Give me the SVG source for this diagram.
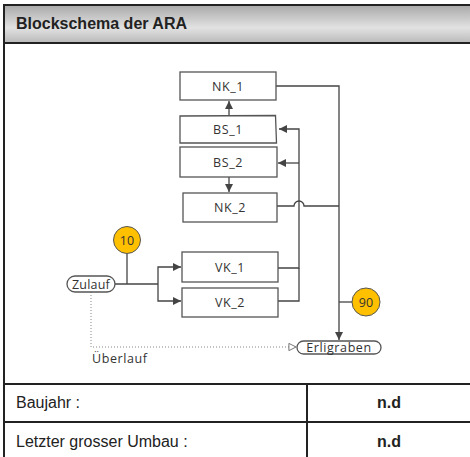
<svg xmlns="http://www.w3.org/2000/svg" width="470" height="457" viewBox="0 0 470 457">
<style>
.box{fill:#fff;stroke:#555;stroke-width:1.3}
.lbl{font-family:"Open Sans","DejaVu Sans",sans-serif;font-size:12.5px;fill:#333;text-anchor:middle;letter-spacing:0.6px}
.st{text-anchor:start}
.ln{fill:none;stroke:#444;stroke-width:1.3}
.dot{fill:none;stroke:#888;stroke-width:1;stroke-dasharray:1,2}
.circ{fill:#FFC000;stroke:#555;stroke-width:1}
.tx{font-family:"Liberation Sans",Arial,sans-serif;font-size:16px;fill:#222}
.b{font-weight:bold}
.mid{text-anchor:middle}
.frame{stroke:#222;stroke-width:2;fill:none}
</style>
<defs>
<linearGradient id="hg" x1="0" y1="0" x2="0" y2="1">
<stop offset="0" stop-color="#a9a9a9"/>
<stop offset="0.6" stop-color="#e2e2e2"/>
<stop offset="1" stop-color="#b9b9b9"/>
</linearGradient>
<marker id="ah" viewBox="0 0 10 10" refX="10" refY="5" markerWidth="8" markerHeight="8" markerUnits="userSpaceOnUse" orient="auto">
<path d="M0,0 L10,5 L0,10 Z" fill="#444"/>
</marker>
<marker id="oh" viewBox="0 0 10 10" refX="10" refY="5" markerWidth="9" markerHeight="9" markerUnits="userSpaceOnUse" orient="auto">
<path d="M1,1 L9,5 L1,9 Z" fill="#fff" stroke="#666" stroke-width="1"/>
</marker>
</defs>
<rect width="470" height="457" fill="#fff"/>
<g id="header">
<rect x="4" y="5" width="470" height="38" fill="url(#hg)" stroke="#222" stroke-width="2"/>
<text class="tx b" x="16" y="29">Blockschema der ARA</text>
</g>
<g id="frame">
<line class="frame" x1="4" y1="43" x2="4" y2="457"/>
<line class="frame" x1="4" y1="384" x2="470" y2="384"/>
<line class="frame" x1="4" y1="422" x2="470" y2="422" stroke-width="1.5"/>
<line class="frame" x1="307" y1="384" x2="307" y2="457" stroke="#333" stroke-width="2.5"/>
<text class="tx" x="16" y="408">Baujahr :</text>
<text class="tx b mid" x="389" y="408">n.d</text>
<text class="tx" x="16" y="447">Letzter grosser Umbau :</text>
<text class="tx b mid" x="389" y="447">n.d</text>
</g>
<g id="connectors">
<line class="ln" x1="229" y1="116" x2="229" y2="101" marker-end="url(#ah)"/>
<line class="ln" x1="229" y1="177" x2="229" y2="192" marker-end="url(#ah)"/>
<polyline class="ln" points="276,86 339,86 339,340" marker-end="url(#ah)"/>
<path class="ln" d="M277,206 H294 A5,5 0 0 1 304,206 H339"/>
<polyline class="ln" points="278,268 299,268 299,129 279,129" marker-end="url(#ah)"/>
<polyline class="ln" points="299,163 278,163" marker-end="url(#ah)"/>
<polyline class="ln" points="278,301 299,301 299,268"/>
<polyline class="ln" points="115,284 158,284"/>
<polyline class="ln" points="158,284 158,267 181,267" marker-end="url(#ah)"/>
<polyline class="ln" points="158,284 158,301 181,301" marker-end="url(#ah)"/>
<line class="ln" x1="127" y1="254" x2="127" y2="284"/>
<line class="ln" x1="352" y1="302" x2="339" y2="302"/>
<polyline class="dot" points="91,292 91,347 297,347" marker-end="url(#oh)"/>
</g>
<g id="NK_1"><rect class="box" x="180" y="72" width="96" height="28"/><text class="lbl" x="228" y="90.5">NK_1</text></g>
<g id="BS_1"><polygon class="box" points="180,116 275.5,115.5 276.5,143 180,143"/><text class="lbl" x="228" y="134">BS_1</text></g>
<g id="BS_2"><rect class="box" x="180" y="147" width="97" height="30"/><text class="lbl" x="228" y="166.5">BS_2</text></g>
<g id="NK_2"><rect class="box" x="183" y="193" width="94" height="29"/><text class="lbl" x="230" y="212">NK_2</text></g>
<g id="VK_1"><rect class="box" x="182" y="252" width="96" height="30"/><text class="lbl" x="230" y="271.5">VK_1</text></g>
<g id="VK_2"><rect class="box" x="182" y="288" width="96" height="29"/><text class="lbl" x="230" y="307">VK_2</text></g>
<g id="Zulauf"><rect class="box" x="67" y="276" width="48" height="16" rx="8"/><text class="lbl" x="91" y="288.5" style="letter-spacing:0.2px">Zulauf</text></g>
<g id="Erligraben"><rect class="box" x="297" y="341" width="84" height="13" rx="6.5"/><text class="lbl" x="339" y="352">Erligraben</text></g>
<g id="c10"><circle class="circ" cx="127" cy="240" r="13.5"/><text class="lbl" x="127" y="244.5" style="letter-spacing:0">10</text></g>
<g id="c90"><circle class="circ" cx="366" cy="302" r="14"/><text class="lbl" x="366" y="306.5" style="letter-spacing:0">90</text></g>
<g id="Ueberlauf"><text class="lbl st" x="92" y="363">Überlauf</text></g>
</svg>
